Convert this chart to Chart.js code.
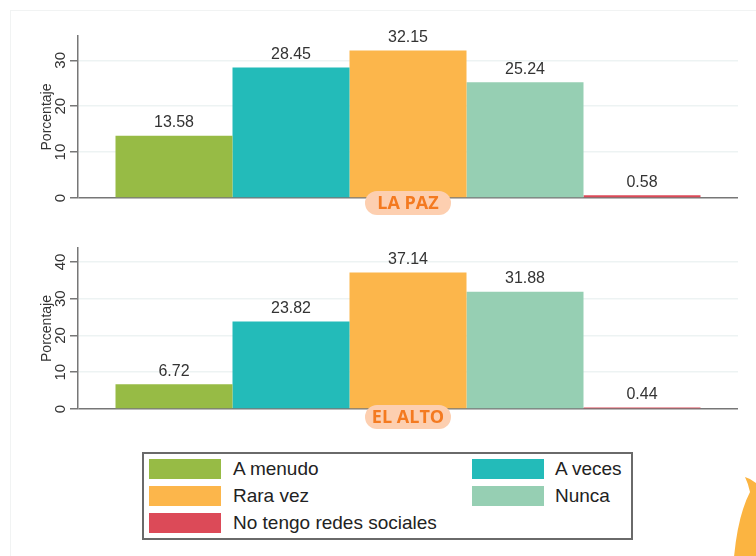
<!DOCTYPE html>
<html>
<head>
<meta charset="utf-8">
<script src="https://cdn.jsdelivr.net/npm/chart.js@4"></script>
<style>
  body { margin: 0; background: #fff; font-family: 'Liberation Sans', Arial, sans-serif; }
  #wrap { position: relative; width: 756px; height: 556px; overflow: hidden; }
  .panel { position: absolute; left: 0; width: 756px; }
  #frame { position: absolute; left: 10px; top: 10px; width: 760px; height: 560px; border-left: 1px solid #f1f3f3; border-top: 1px solid #f1f3f3; }
  #legend { position: absolute; left: 142px; top: 452px; width: 491px; height: 88px; box-sizing: border-box; border: 2px solid #6a6a6a; }
  .sw { position: absolute; width: 72px; height: 20px; }
  .lb { position: absolute; font-size: 19px; color: #222; line-height: 20px; white-space: nowrap; }
</style>
</head>
<body>
<div id="wrap">
  <div id="frame"></div>
  <div class="panel" style="top:0;height:225px"><canvas id="chartLaPaz"></canvas></div>
  <div class="panel" style="top:225px;height:220px"><canvas id="chartElAlto"></canvas></div>
  <div id="legend"></div>
  <svg width="756" height="556" style="position:absolute;left:0;top:0;pointer-events:none">
    <path d="M 745 477 Q 752 479 757 484 L 757 557 L 734 557 Q 738 515 750 492 Q 748 483 745 477 Z" fill="#fbb441"/>
  </svg>
</div>
<script>
// categorias y valores (%)
var categorias = ['A menudo', 'A veces', 'Rara vez', 'Nunca', 'No tengo redes sociales'];
var colores = ['#97bb45', '#23bbb9', '#fcb64b', '#96cfb3', '#dc4a58'];
var laPaz = [13.58, 28.45, 32.15, 25.24, 0.58];
var elAlto = [6.72, 23.82, 37.14, 31.88, 0.44];
var ticksLaPaz = [0, 10, 20, 30];
var ticksElAlto = [0, 10, 20, 30, 40];

Chart.defaults.font.family = "'Liberation Sans', Arial, sans-serif";
Chart.defaults.color = '#333';

// etiquetas de valor encima de cada barra
var valueLabels = {
    id: 'valueLabels',
    afterDatasetsDraw: function (chart) {
        var ctx = chart.ctx;
        ctx.save();
        ctx.font = "16px 'Liberation Sans', Arial";
        ctx.fillStyle = '#333';
        ctx.textAlign = 'center';
        ctx.textBaseline = 'bottom';
        chart.data.datasets.forEach(function (ds, i) {
            var bar = chart.getDatasetMeta(i).data[0];
            ctx.fillText(ds.data[0].toFixed(2), bar.x, bar.y - 5);
        });
        ctx.restore();
    }
};

// etiqueta de ciudad debajo del eje
var badge = {
    id: 'badge',
    afterDraw: function (chart, args, opts) {
        var ctx = chart.ctx;
        var a = chart.chartArea;
        var cx = (a.left + a.right) / 2, cy = a.bottom + opts.offset;
        var w = 86, h = 24, r = 12;
        ctx.save();
        ctx.fillStyle = '#fdcfb0';
        ctx.beginPath();
        ctx.roundRect(cx - w / 2, cy - h / 2, w, h, r);
        ctx.fill();
        ctx.font = "bold 18px 'Open Sans', sans-serif";
        ctx.fillStyle = '#f47a20';
        ctx.textAlign = 'center';
        ctx.textBaseline = 'middle';
        ctx.fillText(opts.text, cx, cy + 1);
        ctx.restore();
    }
};

function makeChart(id, values, tickVals, maxY, pad, title, offset) {
    var datasets = categorias.map(function (c, i) {
        return { label: c, data: [values[i]], backgroundColor: colores[i], borderWidth: 0 };
    });
    return new Chart(document.getElementById(id), {
        type: 'bar',
        data: { labels: [''], datasets: datasets },
        options: {
            responsive: true,
            maintainAspectRatio: false,
            animation: false,
            layout: { padding: { left: 0, right: 18, top: pad[0], bottom: pad[1] } },
            datasets: { bar: { categoryPercentage: 585 / 660, barPercentage: 1 } },
            plugins: {
                legend: { display: false },
                tooltip: { enabled: false },
                badge: { text: title, offset: offset }
            },
            scales: {
                x: { display: false },
                y: {
                    min: 0,
                    max: maxY,
                    afterFit: function (s) { s.width = 78; },
                    afterBuildTicks: function (s) {
                        s.ticks = tickVals.map(function (v) { return { value: v }; });
                    },
                    ticks: { minRotation: 90, maxRotation: 90, crossAlign: 'center', padding: 1, font: { size: 15 }, color: '#333' },
                    grid: {
                        color: function (c) { return c.tick && c.tick.value === 0 ? '#777' : '#edf3f3'; },
                        lineWidth: 1.5,
                        tickLength: 8,
                        tickColor: '#777'
                    },
                    border: { color: '#777', width: 1.5 },
                    title: { display: true, text: 'Porcentaje', font: { size: 14 }, color: '#333', padding: { top: 39 } }
                }
            }
        },
        plugins: [valueLabels, badge]
    });
}

makeChart('chartLaPaz', laPaz, ticksLaPaz, 35.3, [36, 27], 'LA PAZ', 5);
makeChart('chartElAlto', elAlto, ticksElAlto, 43.8, [23, 36], 'EL ALTO', 8);

// leyenda compartida, dos columnas
var legend = document.getElementById('legend');
categorias.forEach(function (c, i) {
    var col = i % 2, row = Math.floor(i / 2);
    var sw = document.createElement('div');
    sw.className = 'sw';
    sw.style.left = (col ? 328 : 5) + 'px';
    sw.style.top = (5 + row * 27) + 'px';
    sw.style.background = colores[i];
    legend.appendChild(sw);
    var lb = document.createElement('div');
    lb.className = 'lb';
    lb.style.left = (col ? 411 : 89) + 'px';
    lb.style.top = (5 + row * 27) + 'px';
    lb.textContent = c;
    legend.appendChild(lb);
});
</script>
</body>
</html>
